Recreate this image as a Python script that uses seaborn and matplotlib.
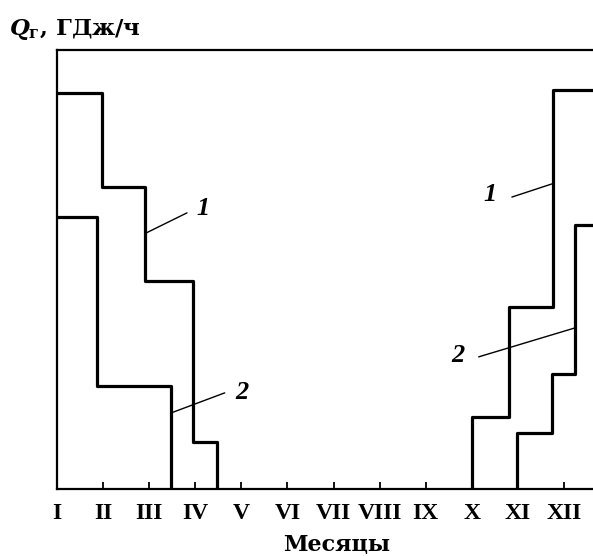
import matplotlib
matplotlib.use("Agg")
import matplotlib.pyplot as plt
import seaborn as sns
import pandas as pd

# Month labels along the horizontal axis (position 1 = January)
months = ["I", "II", "III", "IV", "V", "VI", "VII", "VIII", "IX", "X", "XI", "XII"]
month_pos = list(range(1, 13))

# Curve 1: heating load, spring part and autumn part (step boundaries in months)
c1_spring_x = [1.0, 1.98, 2.9, 3.96, 4.48]
c1_spring_y = [90.2, 68.8, 47.4, 10.7, 0.0]
c1_autumn_x = [10.0, 10.0, 10.8, 11.76, 13.0]
c1_autumn_y = [0.0, 16.4, 41.5, 90.9, 90.9]

# Curve 2
c2_spring_x = [1.0, 1.87, 3.47]
c2_spring_y = [62.0, 23.5, 0.0]
c2_autumn_x = [10.98, 10.98, 11.74, 12.24, 13.0]
c2_autumn_y = [0.0, 12.8, 26.2, 60.1, 60.1]

sns.set_theme(style="white")
plt.rcParams["font.family"] = ["Liberation Serif", "DejaVu Serif"]
plt.rcParams["font.weight"] = "bold"
plt.rcParams["text.color"] = "black"
plt.rcParams["xtick.color"] = "black"
plt.rcParams["mathtext.fontset"] = "custom"
plt.rcParams["mathtext.it"] = "DejaVu Serif:italic:bold"
plt.rcParams["mathtext.rm"] = "DejaVu Serif:bold"

fig = plt.figure(figsize=(5.93, 5.56), dpi=100)
ax = fig.add_axes([57 / 593, 1 - 489 / 556, 1 - 57 / 593, (489 - 50) / 556])

segments = [
    (c1_spring_x, c1_spring_y),
    (c1_autumn_x, c1_autumn_y),
    (c2_spring_x, c2_spring_y),
    (c2_autumn_x, c2_autumn_y),
]
for xs, ys in segments:
    df = pd.DataFrame({"month": xs, "Q": ys})
    sns.lineplot(data=df, x="month", y="Q", ax=ax, color="black", lw=2.3,
                 drawstyle="steps-post", estimator=None, sort=False)

ax.set_xlim(1, 12.63)
ax.set_ylim(0, 100)

for side in ["left", "bottom", "top"]:
    ax.spines[side].set_visible(True)
    ax.spines[side].set_color("black")
    ax.spines[side].set_linewidth(1.6)
ax.spines["right"].set_visible(False)

ax.set_xticks(month_pos)
ax.set_xticklabels(months, fontsize=17, fontweight="bold", color="black")
ax.tick_params(axis="x", direction="in", length=5, width=1.3, color="black",
               pad=10, bottom=True)
ax.set_yticks([])
ax.set_ylabel("")
ax.set_xlabel("")

# Axis captions
fig.text(337 / 593, 1 - 545 / 556, "Месяцы", family="DejaVu Serif",
         fontsize=16, fontweight="bold", ha="center", va="center")
fig.text(9 / 593, 1 - 30 / 556, r"$Q_{\mathrm{г}}$, ГДж/ч", family="DejaVu Serif",
         fontsize=16.5, fontweight="bold", ha="left", va="center")

# Curve labels with leader lines
callouts = [
    ("1", (4.17, 64.0), (3.82, 62.9), (2.93, 58.3)),
    ("1", (10.39, 67.0), (10.87, 66.5), (11.74, 69.5)),
    ("2", (5.01, 21.9), (4.64, 21.9), (3.52, 17.5)),
    ("2", (9.70, 30.5), (10.15, 30.1), (12.24, 36.7)),
]
for txt, tpos, p0, p1 in callouts:
    ax.text(tpos[0], tpos[1], txt, fontsize=19, fontstyle="italic",
            fontweight="bold", ha="center", va="center")
    ax.plot([p0[0], p1[0]], [p0[1], p1[1]], color="black", lw=1.0)

fig.savefig("out.png", dpi=100, facecolor="white")
